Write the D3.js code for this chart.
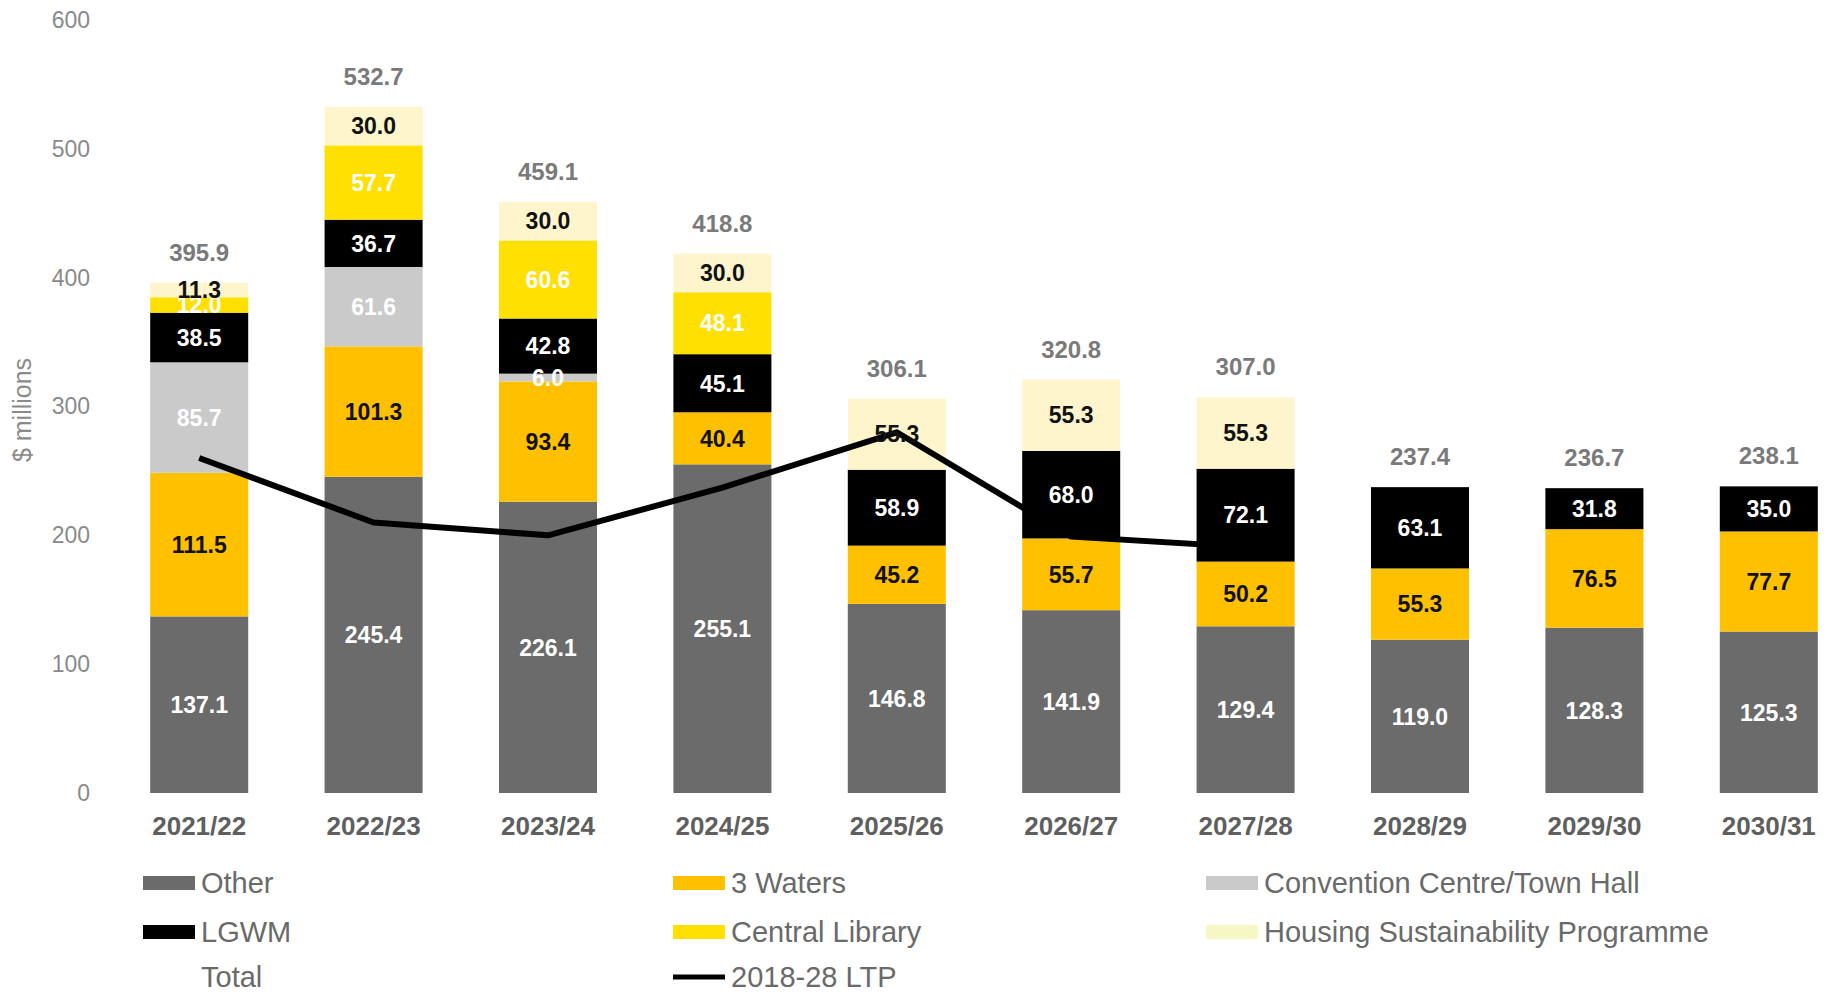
<!doctype html>
<html lang="en">
<head>
<meta charset="utf-8">
<title>Capital expenditure</title>
<script src="https://cdnjs.cloudflare.com/ajax/libs/d3/7.8.5/d3.min.js"></script>
<style>
    body { margin: 0; background: #fff; }
    svg text { font-family: "Liberation Sans", Arial, sans-serif; }
</style>
</head>
<body>
<div id="chart"></div>
<script>
    var years = ['2021/22', '2022/23', '2023/24', '2024/25', '2025/26', '2026/27', '2027/28', '2028/29', '2029/30', '2030/31'];
    var other = [137.1, 245.4, 226.1, 255.1, 146.8, 141.9, 129.4, 119.0, 128.3, 125.3];
    var threeWaters = [111.5, 101.3, 93.4, 40.4, 45.2, 55.7, 50.2, 55.3, 76.5, 77.7];
    var convention = [85.7, 61.6, 6.0, 0, 0, 0, 0, 0, 0, 0];
    var lgwm = [38.5, 36.7, 42.8, 45.1, 58.9, 68.0, 72.1, 63.1, 31.8, 35.0];
    var library = [12.0, 57.7, 60.6, 48.1, 0, 0, 0, 0, 0, 0];
    var housing = [11.3, 30.0, 30.0, 30.0, 55.3, 55.3, 55.3, 0, 0, 0];
    var totals = [395.9, 532.7, 459.1, 418.8, 306.1, 320.8, 307.0, 237.4, 236.7, 238.1];
    var ltpYears = ['2021/22', '2022/23', '2023/24', '2024/25', '2025/26', '2026/27', '2027/28'];
    var ltp = [260, 210, 200, 237, 280, 199, 191];
    var yTicks = [0, 100, 200, 300, 400, 500, 600];

    var series = [
        {key: 'other', name: 'Other', values: other, color: '#6b6b6b', label: '#fff'},
        {key: 'threeWaters', name: '3 Waters', values: threeWaters, color: '#ffc000', label: '#111'},
        {key: 'convention', name: 'Convention Centre/Town Hall', values: convention, color: '#cacaca', label: '#fff'},
        {key: 'lgwm', name: 'LGWM', values: lgwm, color: '#000', label: '#fff'},
        {key: 'library', name: 'Central Library', values: library, color: '#ffe000', label: '#fff'},
        {key: 'housing', name: 'Housing Sustainability Programme', values: housing, color: '#fff5cc', label: '#111'}
    ];

    var table = years.map(function(y, i) {
        var row = {year: y};
        series.forEach(function(s) { row[s.key] = s.values[i]; });
        return row;
    });

    var width = 1836, height = 996;
    var svg = d3.select('#chart').append('svg')
        .attr('width', width)
        .attr('height', height);

    var x = d3.scaleBand()
        .domain(years)
        .range([112, 1856])
        .paddingInner(0.438)
        .paddingOuter(0.219);

    var y = d3.scaleLinear()
        .domain([0, 600])
        .range([793, 20]);

    // y axis labels only, no line
    var yAxis = svg.append('g')
        .attr('transform', 'translate(90,0)')
        .call(d3.axisLeft(y).tickValues(yTicks).tickSize(0).tickPadding(0));
    yAxis.select('.domain').remove();
    yAxis.selectAll('text')
        .attr('fill', '#8a8a8a')
        .style('font-size', '23px');

    svg.append('text')
        .attr('transform', 'translate(31,410) rotate(-90)')
        .attr('text-anchor', 'middle')
        .attr('fill', '#8a8a8a')
        .style('font-size', '25px')
        .text('$ millions');

    var xAxis = svg.append('g')
        .attr('transform', 'translate(0,793)')
        .call(d3.axisBottom(x).tickSize(0).tickPadding(24));
    xAxis.select('.domain').remove();
    xAxis.selectAll('text')
        .attr('fill', '#5f5f5f')
        .style('font-size', '26px')
        .style('font-weight', 'bold');

    var stacked = d3.stack().keys(series.map(function(s) { return s.key; }))(table);

    var layers = svg.append('g').selectAll('g')
        .data(stacked)
        .join('g')
        .attr('fill', function(d, i) { return series[i].color; });

    layers.selectAll('rect')
        .data(function(d) { return d; })
        .join('rect')
        .attr('x', function(d) { return x(d.data.year); })
        .attr('width', x.bandwidth())
        .attr('y', function(d) { return y(d[1]); })
        .attr('height', function(d) { return y(d[0]) - y(d[1]); });

    // LTP line
    var line = d3.line()
        .x(function(d, i) { return x(ltpYears[i]) + x.bandwidth() / 2; })
        .y(function(d) { return y(d); });

    svg.append('path')
        .datum(ltp)
        .attr('fill', 'none')
        .attr('stroke', '#000')
        .attr('stroke-width', 6)
        .attr('stroke-linejoin', 'round')
        .attr('d', line);

    // segment labels
    var labelLayers = svg.append('g').selectAll('g')
        .data(stacked)
        .join('g')
        .attr('fill', function(d, i) { return series[i].label; });

    labelLayers.selectAll('text')
        .data(function(d) { return d.filter(function(p) { return p[1] - p[0] > 0; }); })
        .join('text')
        .attr('x', function(d) { return x(d.data.year) + x.bandwidth() / 2; })
        .attr('y', function(d) { return (y(d[0]) + y(d[1])) / 2; })
        .attr('dy', '0.36em')
        .attr('text-anchor', 'middle')
        .style('font-size', '23px')
        .style('font-weight', 'bold')
        .text(function(d) { return (d[1] - d[0]).toFixed(1); });

    // totals
    svg.append('g').selectAll('text')
        .data(table)
        .join('text')
        .attr('x', function(d) { return x(d.year) + x.bandwidth() / 2; })
        .attr('y', function(d, i) {
            var top = d3.sum(series, function(s) { return d[s.key]; });
            return y(top) - 22;
        })
        .attr('text-anchor', 'middle')
        .attr('fill', '#7a7a7a')
        .style('font-size', '24px')
        .style('font-weight', 'bold')
        .text(function(d, i) { return totals[i].toFixed(1); });

    // legend
    var legendCols = [143, 673, 1206];
    var legendRows = [883, 932, 977];
    var legendItems = [
        {name: 'Other', color: '#6b6b6b', col: 0, row: 0, type: 'box'},
        {name: '3 Waters', color: '#ffc000', col: 1, row: 0, type: 'box'},
        {name: 'Convention Centre/Town Hall', color: '#cacaca', col: 2, row: 0, type: 'box'},
        {name: 'LGWM', color: '#000', col: 0, row: 1, type: 'box'},
        {name: 'Central Library', color: '#ffe000', col: 1, row: 1, type: 'box'},
        {name: 'Housing Sustainability Programme', color: '#f7f7c6', col: 2, row: 1, type: 'box'},
        {name: 'Total', color: 'none', col: 0, row: 2, type: 'none'},
        {name: '2018-28 LTP', color: '#000', col: 1, row: 2, type: 'line'}
    ];

    var legend = svg.append('g').selectAll('g')
        .data(legendItems)
        .join('g')
        .attr('transform', function(d) {
            return 'translate(' + legendCols[d.col] + ',' + legendRows[d.row] + ')';
        });

    legend.filter(function(d) { return d.type === 'box'; })
        .append('rect')
        .attr('y', -7)
        .attr('width', 52)
        .attr('height', 14)
        .attr('fill', function(d) { return d.color; });

    legend.filter(function(d) { return d.type === 'line'; })
        .append('line')
        .attr('x1', 0)
        .attr('x2', 52)
        .attr('stroke', '#000')
        .attr('stroke-width', 5);

    legend.append('text')
        .attr('x', 58)
        .attr('dy', '0.36em')
        .attr('fill', '#6a6a6a')
        .style('font-size', '29px')
        .text(function(d) { return d.name; });
</script>
</body>
</html>
